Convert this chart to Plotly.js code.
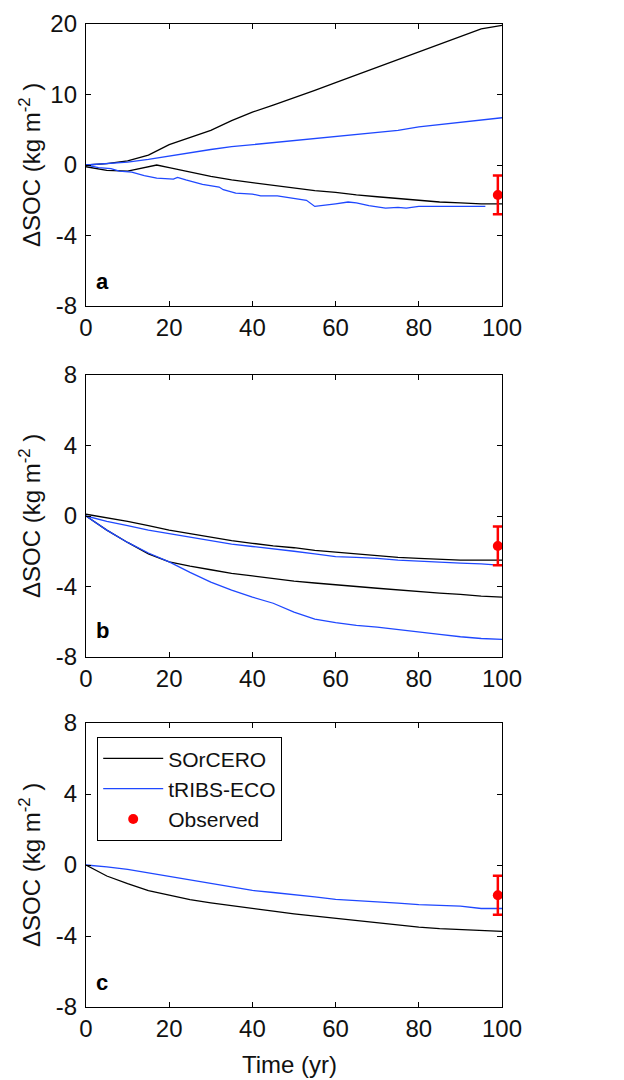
<!DOCTYPE html>
<html>
<head>
<meta charset="utf-8">
<script src="https://cdn.plot.ly/plotly-3.0.1.min.js"></script>
<style>html,body{margin:0;padding:0;background:#fff;}</style>
</head>
<body>
<div id="chart" style="width:624px;height:1080px;"></div>
<script>
// ---------- Data (ΔSOC, kg m-2) ----------
const xTicks = [0, 20, 40, 60, 80, 100];
const yTicksA = [-8, -4, 0, 10, 20];
const yTicksBC = [-8, -4, 0, 4, 8];

// Panel a
const aBlackHiX = [0,5,10,15,20,25,30,35,40,45,50,55,60,65,70,75,80,85,90,95,100];
const aBlackHiY = [0,0.2,0.6,1.4,2.9,3.9,4.9,6.3,7.5,8.5,9.5,10.6,11.7,12.8,13.8,14.9,16.1,17.2,18.3,19.3,19.8];
const aBlueHiX = [0,5,10,15,20,25,30,35,40,45,50,55,60,65,70,75,80,85,90,95,100];
const aBlueHiY = [0,0.15,0.4,0.8,1.3,1.7,2.2,2.6,2.9,3.2,3.5,3.8,4.1,4.3,4.6,4.9,5.4,5.7,6.0,6.4,6.7];
const aBlackLoX = [0,5,10,13,17,20,25,30,35,40,45,50,55,60,65,70,75,80,85,90,95,100];
const aBlackLoY = [-0.1,-0.3,-0.35,-0.2,0,-0.15,-0.4,-0.65,-0.85,-1.0,-1.15,-1.3,-1.45,-1.55,-1.7,-1.8,-1.9,-2.0,-2.1,-2.15,-2.2,-2.2];
const aBlueLoX = [0,3,6,8,11,14,17,21,22,24,28,32,33,36,40,42,46,50,53,55,57,60,63,65,68,72,75,77,80,85,90,96];
const aBlueLoY = [0,-0.15,-0.2,-0.35,-0.4,-0.6,-0.75,-0.8,-0.7,-0.85,-1.1,-1.25,-1.4,-1.6,-1.65,-1.75,-1.75,-1.9,-2.0,-2.35,-2.3,-2.2,-2.1,-2.15,-2.3,-2.45,-2.4,-2.45,-2.35,-2.35,-2.35,-2.35];

// Panel b
const bX = [0,5,10,15,20,25,30,35,40,45,50,55,60,65,70,75,80,85,90,95,100];
const bBlackHiY = [0.1,-0.1,-0.3,-0.55,-0.8,-1.0,-1.2,-1.4,-1.55,-1.7,-1.8,-1.95,-2.05,-2.15,-2.25,-2.35,-2.4,-2.45,-2.5,-2.5,-2.5];
const bBlueHiY = [0,-0.3,-0.55,-0.8,-1.0,-1.2,-1.4,-1.6,-1.73,-1.85,-2.0,-2.15,-2.3,-2.35,-2.4,-2.5,-2.57,-2.62,-2.67,-2.72,-2.8];
const bBlackLoY = [0,-0.8,-1.5,-2.15,-2.6,-2.85,-3.05,-3.25,-3.4,-3.55,-3.7,-3.8,-3.92,-4.0,-4.1,-4.2,-4.3,-4.38,-4.45,-4.55,-4.6];
const bBlueLoY = [0,-0.8,-1.5,-2.1,-2.6,-3.2,-3.75,-4.2,-4.6,-4.95,-5.45,-5.85,-6.05,-6.2,-6.3,-6.45,-6.6,-6.72,-6.85,-6.95,-7.0];

// Panel c
const cX = [0,5,10,15,20,25,30,35,40,45,50,55,60,65,70,75,80,85,90,95,100];
const cBlackY = [0,-0.62,-1.05,-1.45,-1.7,-1.95,-2.13,-2.3,-2.45,-2.6,-2.75,-2.88,-3.0,-3.13,-3.26,-3.38,-3.5,-3.58,-3.64,-3.7,-3.74];
const cBlueY = [0,-0.1,-0.25,-0.45,-0.65,-0.85,-1.05,-1.25,-1.43,-1.55,-1.66,-1.8,-1.94,-2.0,-2.08,-2.15,-2.23,-2.28,-2.32,-2.45,-2.45];

// Observed (same in all panels)
const obsX = [99];
const obsY = [-1.7];
const obsErr = [1.1];

const seriesNames = ['SOrCERO', 'tRIBS-ECO', 'Observed'];
const panelLetters = ['a', 'b', 'c'];

// ---------- Styling ----------
const BLACK = '#000000';
const BLUE = '#1f48ff';
const RED = '#ff0000';
const FONT = 'Liberation Sans, Arial, sans-serif';

// panel a: broken scale (positive side compressed: 10 units == 4 units)
const trA = v => v > 0 ? v * 0.4 : v;

function line(x, y, color, xa, ya, show, name) {
  return {x: x, y: y, type: 'scatter', mode: 'lines', xaxis: xa, yaxis: ya,
    line: {color: color, width: 1.3}, showlegend: !!show, name: name, hoverinfo: 'skip'};
}
function obs(xa, ya, show) {
  return {x: obsX, y: obsY, type: 'scatter', mode: 'markers', xaxis: xa, yaxis: ya,
    marker: {color: RED, size: 10, symbol: 'circle'},
    error_y: {type: 'data', array: obsErr, visible: true, color: RED, thickness: 2.5, width: 5},
    showlegend: !!show, name: seriesNames[2], hoverinfo: 'skip'};
}

const traces = [
  line(aBlackHiX, aBlackHiY.map(trA), BLACK, 'x', 'y', false, seriesNames[0]),
  line(aBlueHiX, aBlueHiY.map(trA), BLUE, 'x', 'y', false, seriesNames[1]),
  line(aBlackLoX, aBlackLoY.map(trA), BLACK, 'x', 'y', false, seriesNames[0]),
  line(aBlueLoX, aBlueLoY.map(trA), BLUE, 'x', 'y', false, seriesNames[1]),
  obs('x', 'y'),
  line(bX, bBlackHiY, BLACK, 'x2', 'y2', false, seriesNames[0]),
  line(bX, bBlueHiY, BLUE, 'x2', 'y2', false, seriesNames[1]),
  line(bX, bBlackLoY, BLACK, 'x2', 'y2', false, seriesNames[0]),
  line(bX, bBlueLoY, BLUE, 'x2', 'y2', false, seriesNames[1]),
  obs('x2', 'y2'),
  line(cX, cBlackY, BLACK, 'x3', 'y3', true, seriesNames[0]),
  line(cX, cBlueY, BLUE, 'x3', 'y3', true, seriesNames[1]),
  obs('x3', 'y3', true)
];

const tickFont = {family: FONT, size: 24, color: '#111'};
function xax(anchor) {
  return {anchor: anchor, range: [0, 100], tickvals: xTicks, ticktext: xTicks.map(String),
    ticks: 'inside', ticklen: 5, tickcolor: '#000', showline: true, linecolor: '#000', linewidth: 1.2,
    mirror: 'ticks', showgrid: false, zeroline: false, tickfont: tickFont};
}
function yax(anchor, domain, vals, text) {
  return {anchor: anchor, domain: domain, range: [-8, 8], tickvals: vals, ticktext: text,
    ticks: 'inside', ticklen: 5, tickcolor: '#000', showline: true, linecolor: '#000', linewidth: 1.2,
    mirror: 'ticks', showgrid: false, zeroline: false, tickfont: tickFont, ticklabelstandoff: 3};
}

const H = 1080, T = 24, B = 73, L = 86, R = 122;
const ph = H - T - B;
const py = px => (H - B - px) / ph; // pixel y -> paper y

const ytitle = 'ΔSOC (kg m<sup>-2</sup> )';
const annotations = [];
const centers = [165, 516, 865];
const letterY = [281, 630, 982];
centers.forEach((c, i) => {
  annotations.push({xref: 'paper', yref: 'paper', x: (30 - L) / (624 - L - R), y: py(c),
    text: ytitle, textangle: -90, showarrow: false, xanchor: 'center', yanchor: 'middle',
    font: {family: FONT, size: 24, color: '#111'}});
  annotations.push({xref: 'paper', yref: 'paper', x: (94 - L) / (624 - L - R), y: py(letterY[i]),
    text: '<b>' + panelLetters[i] + '</b>', showarrow: false, xanchor: 'left', yanchor: 'middle',
    font: {family: FONT, size: 22, color: '#000'}});
});
annotations.push({xref: 'paper', yref: 'paper', x: 0.49, y: py(1064), text: 'Time (yr)',
  showarrow: false, xanchor: 'center', yanchor: 'middle', font: {family: FONT, size: 24, color: '#111'}});

const layout = {
  width: 624, height: 1080,
  margin: {l: L, r: R, t: T, b: B, pad: 0},
  paper_bgcolor: '#fff', plot_bgcolor: '#fff',
  showlegend: true,
  xaxis: xax('y'), xaxis2: xax('y2'), xaxis3: xax('y3'),
  yaxis: yax('x', [py(306), py(24)], [-8, -4, 0, 4, 8], yTicksA.map(String)),
  yaxis2: yax('x2', [py(657), py(375)], yTicksBC, yTicksBC.map(String)),
  yaxis3: yax('x3', [py(1007), py(723)], yTicksBC, yTicksBC.map(String)),
  legend: {x: (97 - L) / (624 - L - R), y: py(737), xanchor: 'left', yanchor: 'top',
    bgcolor: '#fff', bordercolor: '#000', borderwidth: 1.2,
    font: {family: FONT, size: 21, color: '#111'}, itemwidth: 60, tracegroupgap: 0},
  annotations: annotations
};

Plotly.newPlot('chart', traces, layout, {staticPlot: true, displayModeBar: false});
</script>
</body>
</html>
